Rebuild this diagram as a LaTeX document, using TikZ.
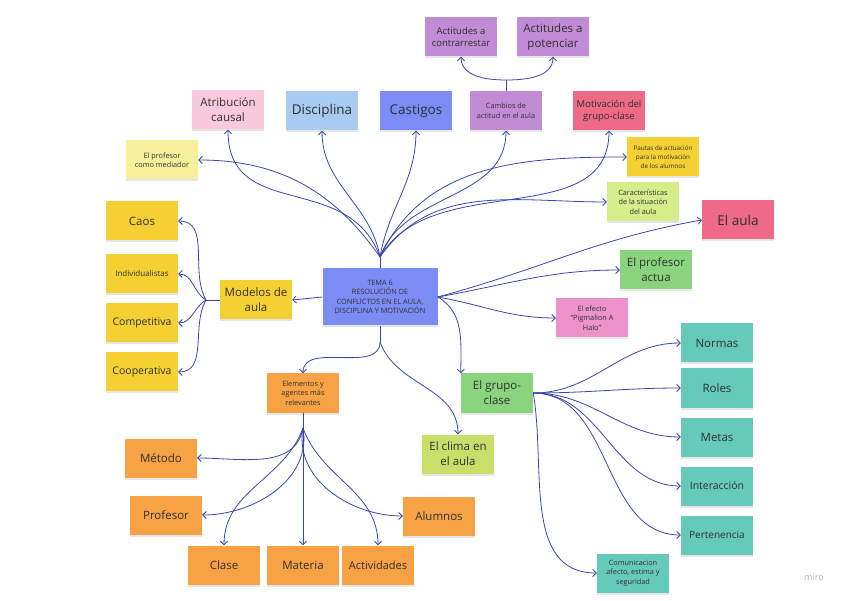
\documentclass[tikz,border=0pt]{standalone}
\usepackage{fontspec}
\setmainfont{Open Sans}
\usetikzlibrary{arrows.meta,shadows}

\definecolor{lineBlue}{HTML}{3A45AE}
\definecolor{noteText}{HTML}{303030}
\definecolor{coreBlue}{HTML}{7C8CF5}
\definecolor{lightBlue}{HTML}{A8CBF2}
\definecolor{notePurple}{HTML}{C18BD6}
\definecolor{lightPink}{HTML}{F9C9DC}
\definecolor{redPink}{HTML}{EE6A86}
\definecolor{magPink}{HTML}{EE92CC}
\definecolor{lightYellow}{HTML}{F6F09A}
\definecolor{noteYellow}{HTML}{F5D033}
\definecolor{lightGreen}{HTML}{D4EE8A}
\definecolor{limeGreen}{HTML}{C8E06A}
\definecolor{noteGreen}{HTML}{8AD47E}
\definecolor{noteTeal}{HTML}{66CABB}
\definecolor{noteOrange}{HTML}{F7A345}

\begin{document}
\begin{tikzpicture}
[x=1pt,y=1pt,
 noteDecorate/.style={shape=rectangle,minimum width=72pt,minimum height=39pt,inner sep=1pt,
   align=center,text=noteText,drop shadow={shadow xshift=0pt,shadow yshift=-2pt,opacity=0.2}},
 coreDecorate/.style={noteDecorate,minimum width=115pt,minimum height=57pt},
 bigText/.style={font=\fontsize{13.5}{16}\selectfont},
 midText/.style={font=\fontsize{11.5}{15}\selectfont},
 lowText/.style={font=\fontsize{9.5}{12}\selectfont},
 smallText/.style={font=\fontsize{7.3}{9.5}\selectfont},
 lineDecorate/.style={-{Straight Barb[length=3.5pt,width=7pt]},line width=0.8pt,draw=lineBlue},
 stemDecorate/.style={-,line width=0.8pt,draw=lineBlue}]
\useasboundingbox (0,0) rectangle (848,600);
%% central node
\node (core) at (380,303) [coreDecorate,fill=coreBlue,smallText] {TEMA 6\\RESOLUCIÓN DE\\CONFLICTOS EN EL AULA,\\DISCIPLINA Y MOTIVACIÓN};
%% top row
\node (contra) at (461,563) [noteDecorate,fill=notePurple,lowText] {Actitudes a\\contrarrestar};
\node (poten) at (553,563) [noteDecorate,fill=notePurple,midText] {Actitudes a\\potenciar};
\node (atrib) at (228,490) [noteDecorate,fill=lightPink,midText] {Atribución\\causal};
\node (disc) at (322,489) [noteDecorate,fill=lightBlue,bigText] {Disciplina};
\node (cast) at (416,489) [noteDecorate,fill=coreBlue,bigText] {Castigos};
\node (cambios) at (506,489) [noteDecorate,fill=notePurple,smallText] {Cambios de\\actitud en el aula};
\node (motiv) at (609,489) [noteDecorate,fill=redPink,lowText] {Motivación del\\grupo-clase};
\node (mediador) at (162,440) [noteDecorate,fill=lightYellow,smallText] {El profesor\\como mediador};
\node (pautas) at (663,443) [noteDecorate,fill=noteYellow,font=\fontsize{6.3}{9}\selectfont] {Pautas de actuación\\para la motivación\\de los alumnos};
\node (caract) at (643,398) [noteDecorate,fill=lightGreen,smallText] {Características\\de la situación\\del aula};
%% right side
\node (aula) at (738,380) [noteDecorate,fill=redPink,bigText] {El aula};
\node (profact) at (656,330) [noteDecorate,fill=noteGreen,midText] {El profesor\\actua};
\node (efecto) at (592,282) [noteDecorate,fill=magPink,smallText] {El efecto\\“Pigmalion A\\Halo”};
%% left side
\node (caos) at (142,379) [noteDecorate,fill=noteYellow,midText] {Caos};
\node (indiv) at (142,326) [noteDecorate,fill=noteYellow,font=\fontsize{8}{10}\selectfont] {Individualistas};
\node (compet) at (142,277) [noteDecorate,fill=noteYellow,font=\fontsize{10.5}{13}\selectfont] {Competitiva};
\node (coop) at (142,228) [noteDecorate,fill=noteYellow,font=\fontsize{10.5}{13}\selectfont] {Cooperativa};
\node (modelos) at (256,300) [noteDecorate,fill=noteYellow,midText] {Modelos de\\aula};
%% lower half
\node (elementos) at (303,207) [noteDecorate,fill=noteOrange,smallText] {Elementos y\\agentes más\\relevantes};
\node (grupo) at (497,207) [noteDecorate,fill=noteGreen,midText] {El grupo-\\clase};
\node (clima) at (458,146) [noteDecorate,fill=limeGreen,midText] {El clima en\\el aula};
\node (normas) at (717,257) [noteDecorate,fill=noteTeal,midText] {Normas};
\node (roles) at (717,212) [noteDecorate,fill=noteTeal,midText] {Roles};
\node (metas) at (717,163) [noteDecorate,fill=noteTeal,midText] {Metas};
\node (inter) at (717,114) [noteDecorate,fill=noteTeal,font=\fontsize{10.5}{13}\selectfont] {Interacción};
\node (perten) at (717,65) [noteDecorate,fill=noteTeal,font=\fontsize{10}{13}\selectfont] {Pertenencia};
\node (comun) at (633,27) [noteDecorate,fill=noteTeal,smallText] {Comunicacion\\afecto, estima y\\seguridad};
\node (metodo) at (161,142) [noteDecorate,fill=noteOrange,midText] {Método};
\node (profesor) at (166,85) [noteDecorate,fill=noteOrange,midText] {Profesor};
\node (clase) at (224,35) [noteDecorate,fill=noteOrange,midText] {Clase};
\node (materia) at (303,35) [noteDecorate,fill=noteOrange,midText] {Materia};
\node (activ) at (378,35) [noteDecorate,fill=noteOrange,font=\fontsize{11}{14}\selectfont] {Actividades};
\node (alumnos) at (439,84) [noteDecorate,fill=noteOrange,midText] {Alumnos};
%% watermark
\node (miro) at (814,23) [text=black!30,font=\fontsize{9}{11}\selectfont] {miro};
%% branching points
\coordinate (coreTop) at (380,343);
\coordinate (coreBot) at (380,258);
\coordinate (modelosFork) at (206,300);
\coordinate (elemFork) at (303,172);
\coordinate (cambiosFork) at (506,520);
%% edges from the central node
\path
(core.north) edge[stemDecorate] (coreTop)
(coreTop) edge[lineDecorate,out=110,in=-90,looseness=1.2] (atrib.south)
(coreTop) edge[lineDecorate,out=100,in=-90] (disc.south)
(coreTop) edge[lineDecorate,out=80,in=-90] (cast.south)
(coreTop) edge[lineDecorate,out=70,in=-90] (cambios.south)
(coreTop) edge[lineDecorate,out=60,in=-90] (motiv.south)
(coreTop) edge[lineDecorate,out=125,in=0] (mediador.east)
(coreTop) edge[lineDecorate,out=65,in=180] (pautas.west)
(coreTop) edge[lineDecorate,out=55,in=180] (caract.west)
(core.east) edge[lineDecorate,out=15,in=190] (aula.west)
(core.east) edge[lineDecorate,out=10,in=180] (profact.west)
(core.east) edge[lineDecorate,out=-10,in=180] (efecto.west)
(core.east) edge[lineDecorate,out=-30,in=90] (grupo.north west)
(core.south) edge[stemDecorate] (coreBot)
(coreBot) edge[lineDecorate,out=-70,in=90] (clima.north)
(coreBot) edge[lineDecorate,out=-90,in=90] (elementos.north)
(core.west) edge[lineDecorate] (modelos.east);
%% top brace
\path
(cambios.north) edge[stemDecorate] (cambiosFork)
(cambiosFork) edge[lineDecorate,out=180,in=-90] (contra.south)
(cambiosFork) edge[lineDecorate,out=0,in=-90] (poten.south);
%% models
\path
(modelos.west) edge[stemDecorate] (modelosFork)
(modelosFork) edge[lineDecorate,out=120,in=0] (caos.east)
(modelosFork) edge[lineDecorate,out=150,in=0] (indiv.east)
(modelosFork) edge[lineDecorate,out=-150,in=0] (compet.east)
(modelosFork) edge[lineDecorate,out=-120,in=0] (coop.east);
%% elements and agents
\path
(elementos.south) edge[stemDecorate] (elemFork)
(elemFork) edge[lineDecorate,out=-100,in=0] (metodo.east)
(elemFork) edge[lineDecorate,out=-80,in=0] (profesor.east)
(elemFork) edge[lineDecorate,out=-110,in=90] (clase.north)
(elemFork) edge[lineDecorate] (materia.north)
(elemFork) edge[lineDecorate,out=-70,in=90] (activ.north)
(elemFork) edge[lineDecorate,out=-100,in=180] (alumnos.west);
%% group-class
\path
(grupo.east) edge[lineDecorate,out=0,in=180] (normas.west)
(grupo.east) edge[lineDecorate,out=0,in=180] (roles.west)
(grupo.east) edge[lineDecorate,out=0,in=180] (metas.west)
(grupo.east) edge[lineDecorate,out=0,in=180] (inter.west)
(grupo.east) edge[lineDecorate,out=0,in=180] (perten.west)
(grupo.east) edge[lineDecorate,out=-80,in=180] (comun.west);
\end{tikzpicture}
\end{document}
